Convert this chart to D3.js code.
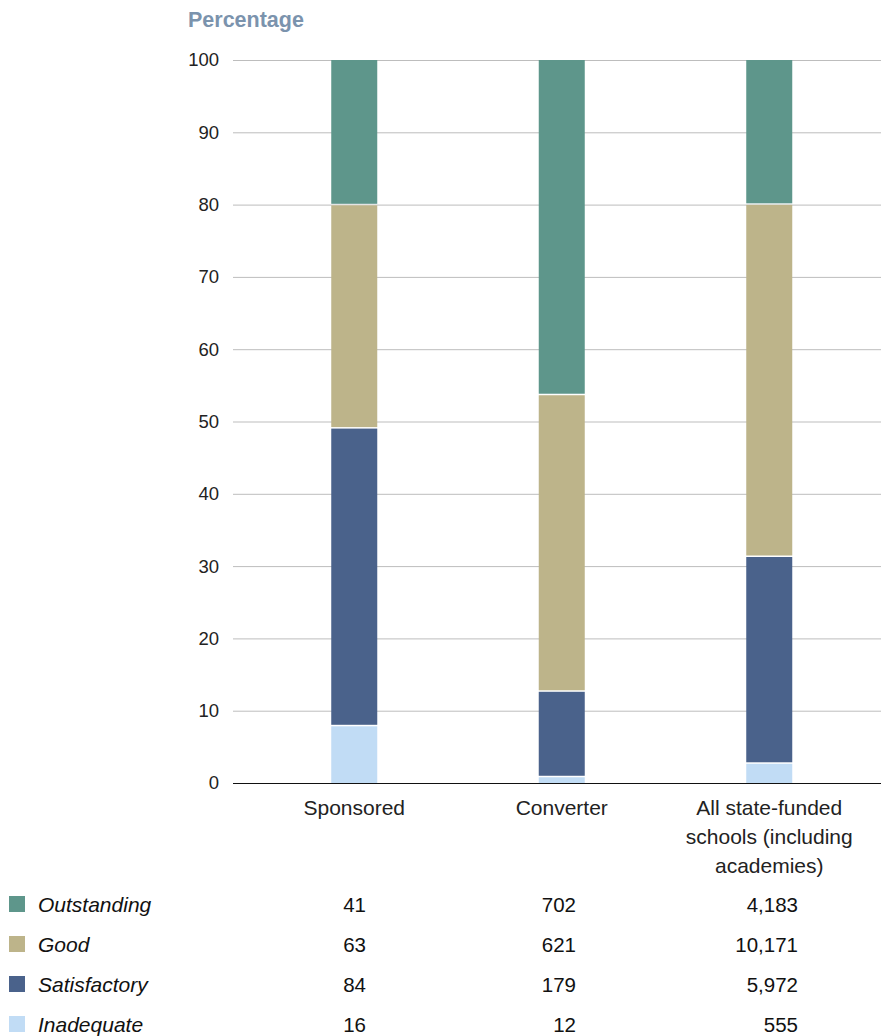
<!DOCTYPE html>
<html><head><meta charset="utf-8">
<script src="https://cdn.jsdelivr.net/npm/d3@7"></script>
<style>
html,body{margin:0;padding:0;background:#fff;}
svg{display:block;font-family:"Liberation Sans",Arial,Helvetica,sans-serif;}
</style></head>
<body>
<svg id="chart" width="881" height="1036"></svg>
<script>
// ---- data ----
const categories = ["Sponsored", "Converter", "All state-funded schools (including academies)"];
const ratings = ["Outstanding", "Good", "Satisfactory", "Inadequate"];
const outstanding = [41, 702, 4183];
const good = [63, 621, 10171];
const satisfactory = [84, 179, 5972];
const inadequate = [16, 12, 555];
const yTicks = [0, 10, 20, 30, 40, 50, 60, 70, 80, 90, 100];
const colors = ["#5e968b", "#bdb48a", "#4a628b", "#c1dcf5"];

const series = [outstanding, good, satisfactory, inadequate];

// ---- layout ----
const svg = d3.select("#chart");
const plot = {left: 233, right: 881, top: 60, bottom: 783};
const barW = 46;

const y = d3.scaleLinear().domain([0, 100]).range([plot.bottom, plot.top]);
const x = d3.scaleBand().domain(categories).range([250.5, 873]).padding(0);
const color = d3.scaleOrdinal().domain(ratings).range(colors);

// rows for stacking (bottom to top: Inadequate, Satisfactory, Good, Outstanding)
const rows = categories.map((c, i) => {
  const o = {cat: c};
  ratings.forEach((r, k) => o[r] = series[k][i]);
  return o;
});
const stackKeys = ratings.slice().reverse();
const stacked = d3.stack().keys(stackKeys).offset(d3.stackOffsetExpand)(rows);

// gridlines
svg.append("g").selectAll("line").data(yTicks.filter(t => t > 0)).join("line")
  .attr("x1", plot.left).attr("x2", plot.right)
  .attr("y1", d => y(d) + 0.5).attr("y2", d => y(d) + 0.5)
  .attr("stroke", "#bdbdbd").attr("stroke-width", 1);

// y axis labels
const yAxis = d3.axisLeft(y).tickValues(yTicks).tickSize(0).tickPadding(0);
const gy = svg.append("g").attr("transform", `translate(219,0)`).call(yAxis);
gy.select(".domain").remove();
gy.selectAll("text").attr("font-size", 18.5).attr("fill", "#222")
  .attr("font-family", "'Liberation Sans',Arial,sans-serif");

// axis title
svg.append("text").attr("x", 188).attr("y", 27)
  .attr("font-size", 21.5).attr("font-weight", "bold").attr("fill", "#7b93ad")
  .text("Percentage");

// bars
const layers = svg.append("g").selectAll("g").data(stacked).join("g")
  .attr("fill", d => color(d.key));
layers.selectAll("rect").data(d => d).join("rect")
  .attr("x", d => x(d.data.cat) + x.bandwidth() / 2 - barW / 2)
  .attr("width", barW)
  .attr("y", d => y(d[1] * 100))
  .attr("height", d => Math.max(0, y(d[0] * 100) - y(d[1] * 100) - (d[0] > 0 ? 1.5 : 0)));

// zero axis
svg.append("line").attr("x1", plot.left).attr("x2", plot.right)
  .attr("y1", plot.bottom + 0.5).attr("y2", plot.bottom + 0.5)
  .attr("stroke", "#111").attr("stroke-width", 1.2);

// category labels (wrapped)
const xAxis = d3.axisBottom(x).tickSize(0).tickPadding(0);
const gx = svg.append("g").attr("transform", `translate(0,${plot.bottom})`).call(xAxis);
gx.select(".domain").remove();
gx.selectAll("text").attr("font-size", 21).attr("fill", "#222")
  .attr("font-family", "'Liberation Sans',Arial,sans-serif")
  .attr("dy", null).attr("y", 32)
  .each(function(d) {
    const t = d3.select(this);
    const words = d.split(" ");
    t.text(null);
    let line = [], lineNo = 0;
    let ts = t.append("tspan").attr("x", 0).attr("y", 32);
    words.forEach(w => {
      line.push(w);
      ts.text(line.join(" "));
      if (ts.node().getComputedTextLength() > 190 && line.length > 1) {
        line.pop(); ts.text(line.join(" "));
        line = [w]; lineNo++;
        ts = t.append("tspan").attr("x", 0).attr("y", 32 + lineNo * 29).text(w);
      }
    });
  });

// legend / table
const tableTop = 904, rowH = 40;
const colRight = [366, 576, 798];
const fmt = d3.format(",");
const tr = svg.append("g").selectAll("g").data(ratings).join("g")
  .attr("transform", (d, i) => `translate(0,${tableTop + i * rowH})`);
tr.append("rect").attr("x", 9).attr("y", -8).attr("width", 16).attr("height", 16)
  .attr("fill", d => color(d));
tr.append("text").attr("x", 38).attr("y", 8).attr("font-size", 21)
  .attr("font-style", "italic").attr("fill", "#111").text(d => d);
tr.each(function(r, k) {
  d3.select(this).selectAll("text.num").data(series[k]).join("text")
    .attr("class", "num")
    .attr("x", (d, i) => colRight[i]).attr("y", 8)
    .attr("text-anchor", "end").attr("font-size", 20.5).attr("fill", "#111")
    .text(d => fmt(d));
});
</script>
</body></html>
